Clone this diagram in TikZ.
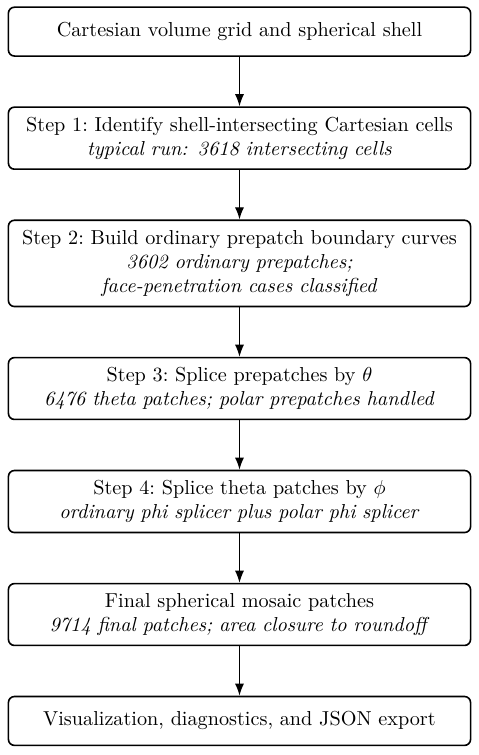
\documentclass[tikz,border=0pt]{standalone}
\usepackage{tikz}
\usetikzlibrary{arrows.meta,positioning}

\begin{document}
\begin{tikzpicture}[font=\normalsize,
    stage/.style={rectangle, rounded corners=3pt, draw=black, thick, align=center,
                  text width=7.7cm, minimum height=0.85cm, inner sep=4.8pt},
    flow/.style={-{Latex[length=6pt]}, semithick}]
    \path[use as bounding box] (-4.165,0.55) rectangle (4.165,-12.58);
    \node[stage] (grid) {Cartesian volume grid and spherical shell};
    \node[stage, below=0.86cm of grid] (cells)
      {Step 1:\ Identify shell-intersecting Cartesian cells\\ \textit{typical run: 3618 intersecting cells}};
    \node[stage, below=0.86cm of cells] (curves)
      {Step 2:\ Build ordinary prepatch boundary curves\\ \textit{3602 ordinary prepatches;}\\ \textit{face-penetration cases classified}};
    \node[stage, below=0.86cm of curves] (theta)
      {Step 3:\ Splice prepatches by $\theta$\\ \textit{6476 theta patches; polar prepatches handled}};
    \node[stage, below=0.86cm of theta] (phi)
      {Step 4:\ Splice theta patches by $\phi$\\ \textit{ordinary phi splicer plus polar phi splicer}};
    \node[stage, below=0.86cm of phi] (mosaic)
      {Final spherical mosaic patches\\ \textit{9714 final patches; area closure to roundoff}};
    \node[stage, below=0.86cm of mosaic] (export) {Visualization, diagnostics, and JSON export};
    \draw[flow] (grid)--(cells);
    \draw[flow] (cells)--(curves);
    \draw[flow] (curves)--(theta);
    \draw[flow] (theta)--(phi);
    \draw[flow] (phi)--(mosaic);
    \draw[flow] (mosaic)--(export);
  \end{tikzpicture}
\end{document}
